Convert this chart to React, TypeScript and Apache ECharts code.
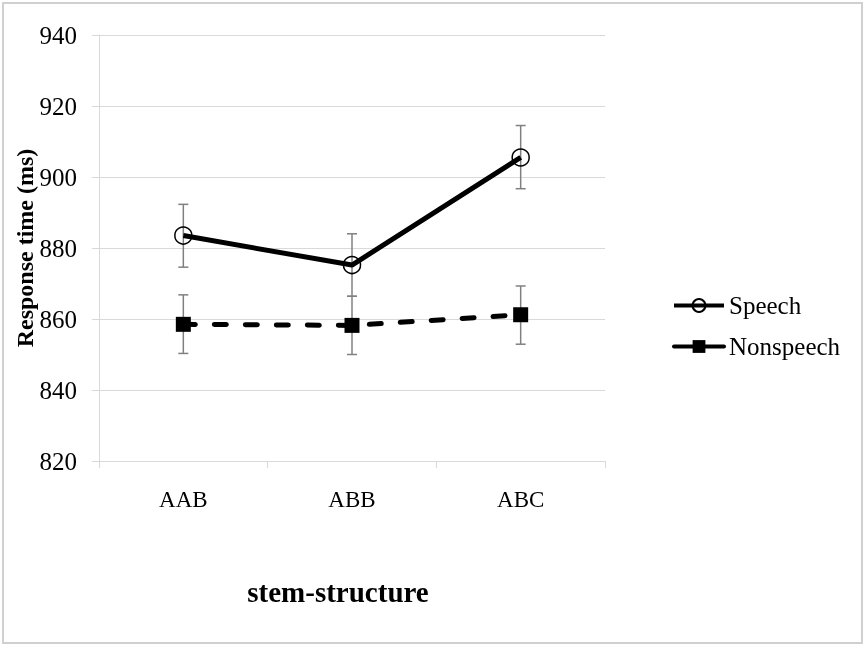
import React, { useEffect, useRef } from 'react';
import * as echarts from 'echarts';

const categories = ['AAB', 'ABB', 'ABC'];
const speechMean = [883.5, 875.2, 905.5];
const speechLow = [874.6, 866.4, 896.7];
const speechHigh = [892.3, 884.0, 914.5];
const nonspeechMean = [858.5, 858.2, 861.2];
const nonspeechLow = [850.3, 850.0, 852.9];
const nonspeechHigh = [866.8, 866.4, 869.3];
const yMin = 820;
const yMax = 940;
const yInterval = 20;

const FONT = '"Liberation Serif", serif';
const GRID = '#d9d9d9';

function errorSeries(name: string, low: number[], high: number[]) {
  return {
    type: 'custom',
    name,
    z: 1,
    data: categories.map((_, i) => [i, low[i], high[i]]),
    encode: { x: 0, y: [1, 2] },
    renderItem: (params: any, api: any) => {
      const x = api.value(0);
      const pLo = api.coord([x, api.value(1)]);
      const pHi = api.coord([x, api.value(2)]);
      const w = 5;
      const style = { stroke: '#808080', lineWidth: 1.5 };
      return {
        type: 'group',
        children: [
          { type: 'line', shape: { x1: pLo[0], y1: pLo[1], x2: pHi[0], y2: pHi[1] }, style },
          { type: 'line', shape: { x1: pLo[0] - w, y1: pLo[1], x2: pLo[0] + w, y2: pLo[1] }, style },
          { type: 'line', shape: { x1: pHi[0] - w, y1: pHi[1], x2: pHi[0] + w, y2: pHi[1] }, style },
        ],
      };
    },
  };
}

export default function App() {
  const ref = useRef<HTMLDivElement>(null);
  useEffect(() => {
    if (!ref.current) return;
    const chart = echarts.init(ref.current, null, { renderer: 'svg' });
    chart.setOption({
      animation: false,
      grid: { left: 99, right: 261, top: 35, bottom: 186, outerBoundsMode: 'none', containLabel: false },
      graphic: [
        {
          type: 'rect',
          shape: { x: 3, y: 3, width: 859, height: 640 },
          style: { fill: 'none', stroke: '#d0d0d0', lineWidth: 2 },
        },
        {
          type: 'text',
          x: 338,
          y: 592,
          style: {
            text: 'stem-structure',
            fontFamily: FONT,
            fontSize: 29,
            fontWeight: 'bold',
            fill: '#000',
            align: 'center',
            verticalAlign: 'middle',
          },
        },
      ],
      legend: {
        orient: 'vertical',
        left: 672,
        top: 293,
        padding: 0,
        itemWidth: 50,
        itemHeight: 16,
        itemGap: 16,
        lineStyle: { width: 4, type: 'solid' },
        textStyle: { fontFamily: FONT, fontSize: 25, color: '#000' },
        data: ['Speech', 'Nonspeech'],
      },
      xAxis: {
        type: 'category',
        data: categories,
        axisLine: { show: true, lineStyle: { color: GRID, width: 1 } },
        axisTick: { show: true, length: 7, lineStyle: { color: GRID } },
        axisLabel: { fontFamily: FONT, fontSize: 23, color: '#000', margin: 27 },
      },
      yAxis: {
        type: 'value',
        min: yMin,
        max: yMax,
        interval: yInterval,
        name: 'Response time (ms)',
        nameLocation: 'middle',
        nameGap: 62,
        nameMoveOverlap: false,
        nameTextStyle: { fontFamily: FONT, fontSize: 24, fontWeight: 'bold', color: '#000' },
        axisLine: { show: true, lineStyle: { color: GRID, width: 1 } },
        axisTick: { show: true, length: 7, lineStyle: { color: GRID } },
        axisLabel: { fontFamily: FONT, fontSize: 25, color: '#000', margin: 22 },
        splitLine: { show: true, lineStyle: { color: GRID, width: 1 } },
      },
      series: [
        errorSeries('SpeechErr', speechLow, speechHigh),
        errorSeries('NonspeechErr', nonspeechLow, nonspeechHigh),
        {
          type: 'line',
          name: 'Speech',
          z: 3,
          data: speechMean,
          symbol: 'circle',
          symbolSize: 17,
          lineStyle: { color: '#000', width: 5 },
          itemStyle: { color: 'rgba(0,0,0,0)', borderColor: '#000', borderWidth: 1.5 },
        },
        {
          type: 'line',
          name: 'Nonspeech',
          z: 3,
          data: nonspeechMean,
          symbol: 'rect',
          symbolSize: 15,
          lineStyle: { color: '#000', width: 5, type: [12, 19], cap: 'round' },
          itemStyle: { color: '#000' },
        },
      ],
    });
    return () => chart.dispose();
  }, []);
  return <div ref={ref} style={{ position: 'fixed', left: 0, top: 0, width: 866, height: 647 }} />;
}
